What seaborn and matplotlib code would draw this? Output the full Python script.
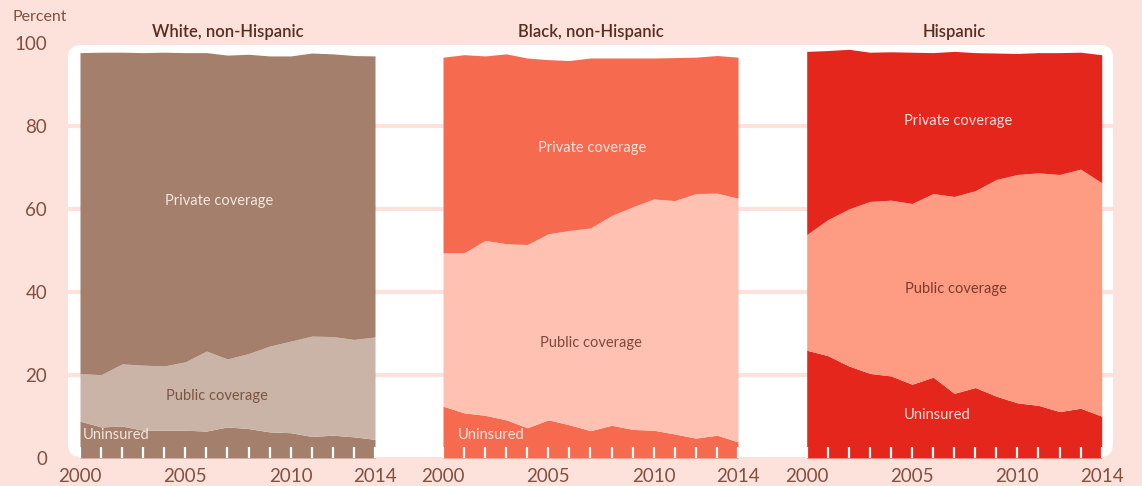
import numpy as np
import pandas as pd
import seaborn as sns
import matplotlib.pyplot as plt
from matplotlib.patches import FancyBboxPatch


years = list(range(2000, 2015))
groups = ['White, non-Hispanic', 'Black, non-Hispanic', 'Hispanic']

# percent of people in each coverage group
white_uninsured = [8.9, 7.5, 7.7, 6.7, 6.7, 6.7, 6.5, 7.5, 7.1, 6.3, 6.1, 5.2, 5.5, 5.1, 4.5]
white_public = [11.5, 12.6, 15.0, 15.7, 15.5, 16.5, 19.3, 16.4, 18.1, 20.7, 22.1, 24.2, 23.8, 23.5, 24.7]
white_private = [77.4, 77.8, 75.2, 75.4, 75.7, 74.6, 72.0, 73.3, 72.2, 70.0, 68.8, 68.3, 68.2, 68.5, 67.8]

black_uninsured = [12.5, 10.9, 10.3, 9.2, 7.3, 9.2, 8.0, 6.6, 7.9, 6.9, 6.7, 5.8, 4.8, 5.5, 3.9]
black_public = [37.0, 38.6, 42.2, 42.5, 44.2, 44.9, 46.9, 48.9, 50.6, 53.7, 55.8, 56.3, 59.0, 58.4, 58.8]
black_private = [47.2, 47.8, 44.5, 45.8, 45.0, 42.0, 41.0, 41.0, 38.0, 35.9, 34.0, 34.5, 32.9, 33.2, 34.0]

hisp_uninsured = [26.0, 24.7, 22.2, 20.4, 19.8, 17.8, 19.5, 15.6, 17.0, 14.9, 13.3, 12.7, 11.2, 12.0, 10.1]
hisp_public = [27.9, 32.8, 37.9, 41.5, 42.4, 43.6, 44.3, 47.5, 47.5, 52.3, 55.1, 56.1, 57.2, 57.7, 56.3]
hisp_private = [44.2, 40.8, 38.5, 36.0, 35.8, 36.5, 34.0, 35.0, 33.3, 30.5, 29.2, 29.0, 29.4, 28.2, 30.9]

year_labels = {2000: '2000', 2005: '2005', 2010: '2010', 2014: '2014'}
y_ticks = [0, 20, 40, 60, 80, 100]

BG = '#fde1db'
TXT = '#5a2d20'
TICK_TXT = '#83503f'

panels = [
    # data, dark colour, light colour, label placement
    (white_uninsured, white_public, white_private, '#a47f6b', '#cab4a7',
     {'priv': (2006.6, 62), 'pub': (2006.5, 14.9), 'unins': (2000.15, 5.6, 'left')},
     '#f3e6de', '#7d5444'),
    (black_uninsured, black_public, black_private, '#f66a4f', '#fec1b2',
     {'priv': (2007.1, 74.9), 'pub': (2007.0, 27.8), 'unins': (2000.7, 5.6, 'left')},
     '#fde6df', '#7d4a3b'),
    (hisp_uninsured, hisp_public, hisp_private, '#e5261c', '#fe9c83',
     {'priv': (2007.2, 81.4), 'pub': (2007.1, 40.7), 'unins': (2004.6, 10.3, 'left')},
     '#fde3dc', '#7d3b2d'),
]

sns.set_theme(style='white')
plt.rcParams['font.family'] = ['Lato', 'DejaVu Sans']

fig = plt.figure(figsize=(11.42, 4.86), dpi=100, facecolor=BG)
W, H = 1142.0, 486.0
y0 = 1 - 458 / H
hh = (458 - 43.5) / H

# white rounded panel behind everything
panel = FancyBboxPatch((68 / W, 1 - 457 / H), 1045 / W, 412 / H,
                       boxstyle='round,pad=0,rounding_size=%f' % (13 / W),
                       mutation_aspect=W / H, transform=fig.transFigure,
                       facecolor='white', edgecolor='none', zorder=-10)
fig.patches.append(panel)

# background axes: gridlines and y labels
bg = fig.add_axes([68 / W, y0, 1045 / W, hh])
bg.set_facecolor('none')
bg.set_xlim(0, 1)
bg.set_ylim(0, 100)
for v in y_ticks[1:-1]:
    bg.axhline(v, color=BG, lw=3)
bg.set_xticks([])
bg.set_yticks(y_ticks)
bg.set_yticklabels([str(v) for v in y_ticks], fontsize=13.5, color=TICK_TXT)
bg.tick_params(axis='y', length=0, pad=15)
sns.despine(ax=bg, left=True, bottom=True)
fig.text(13 / W, 1 - 17 / H, 'Percent', fontsize=11.5, color=TICK_TXT,
         ha='left', va='center')

lefts = [80, 443, 806.7]
for left, name, (unins, pub, priv, dark, light, pos, light_txt, dark_txt) in zip(lefts, groups, panels):
    ax = fig.add_axes([left / W, y0, 295 / W, hh])
    ax.set_facecolor('none')
    ax.set_axisbelow(False)
    df = pd.DataFrame({'year': years, 'Uninsured': unins,
                       'Public coverage': pub, 'Private coverage': priv})
    ax.stackplot(df['year'], df['Uninsured'], df['Public coverage'], df['Private coverage'],
                 colors=[dark, light, dark], linewidth=0)
    ax.set_xlim(2000, 2014)
    ax.set_ylim(0, 100)
    ax.set_yticks([])
    ax.set_xticks(years)
    ax.set_xticklabels([year_labels.get(y, '') for y in years], fontsize=13.5,
                       color=TICK_TXT)
    ax.tick_params(axis='x', direction='in', length=8, width=1.6, color='white',
                   pad=7.5, bottom=True)
    sns.despine(ax=ax, left=True, bottom=True)
    ax.set_title(name, fontsize=12, fontweight='semibold', color=TXT, pad=5)

    ax.text(pos['priv'][0], pos['priv'][1], 'Private coverage', fontsize=10.5,
            color=light_txt, ha='center', va='center')
    ax.text(pos['pub'][0], pos['pub'][1], 'Public coverage', fontsize=10.5,
            color=dark_txt, ha='center', va='center')
    ax.text(pos['unins'][0], pos['unins'][1], 'Uninsured', fontsize=10.5,
            color=light_txt, ha=pos['unins'][2], va='center')

fig.savefig('out.png', dpi=100, facecolor=BG)
